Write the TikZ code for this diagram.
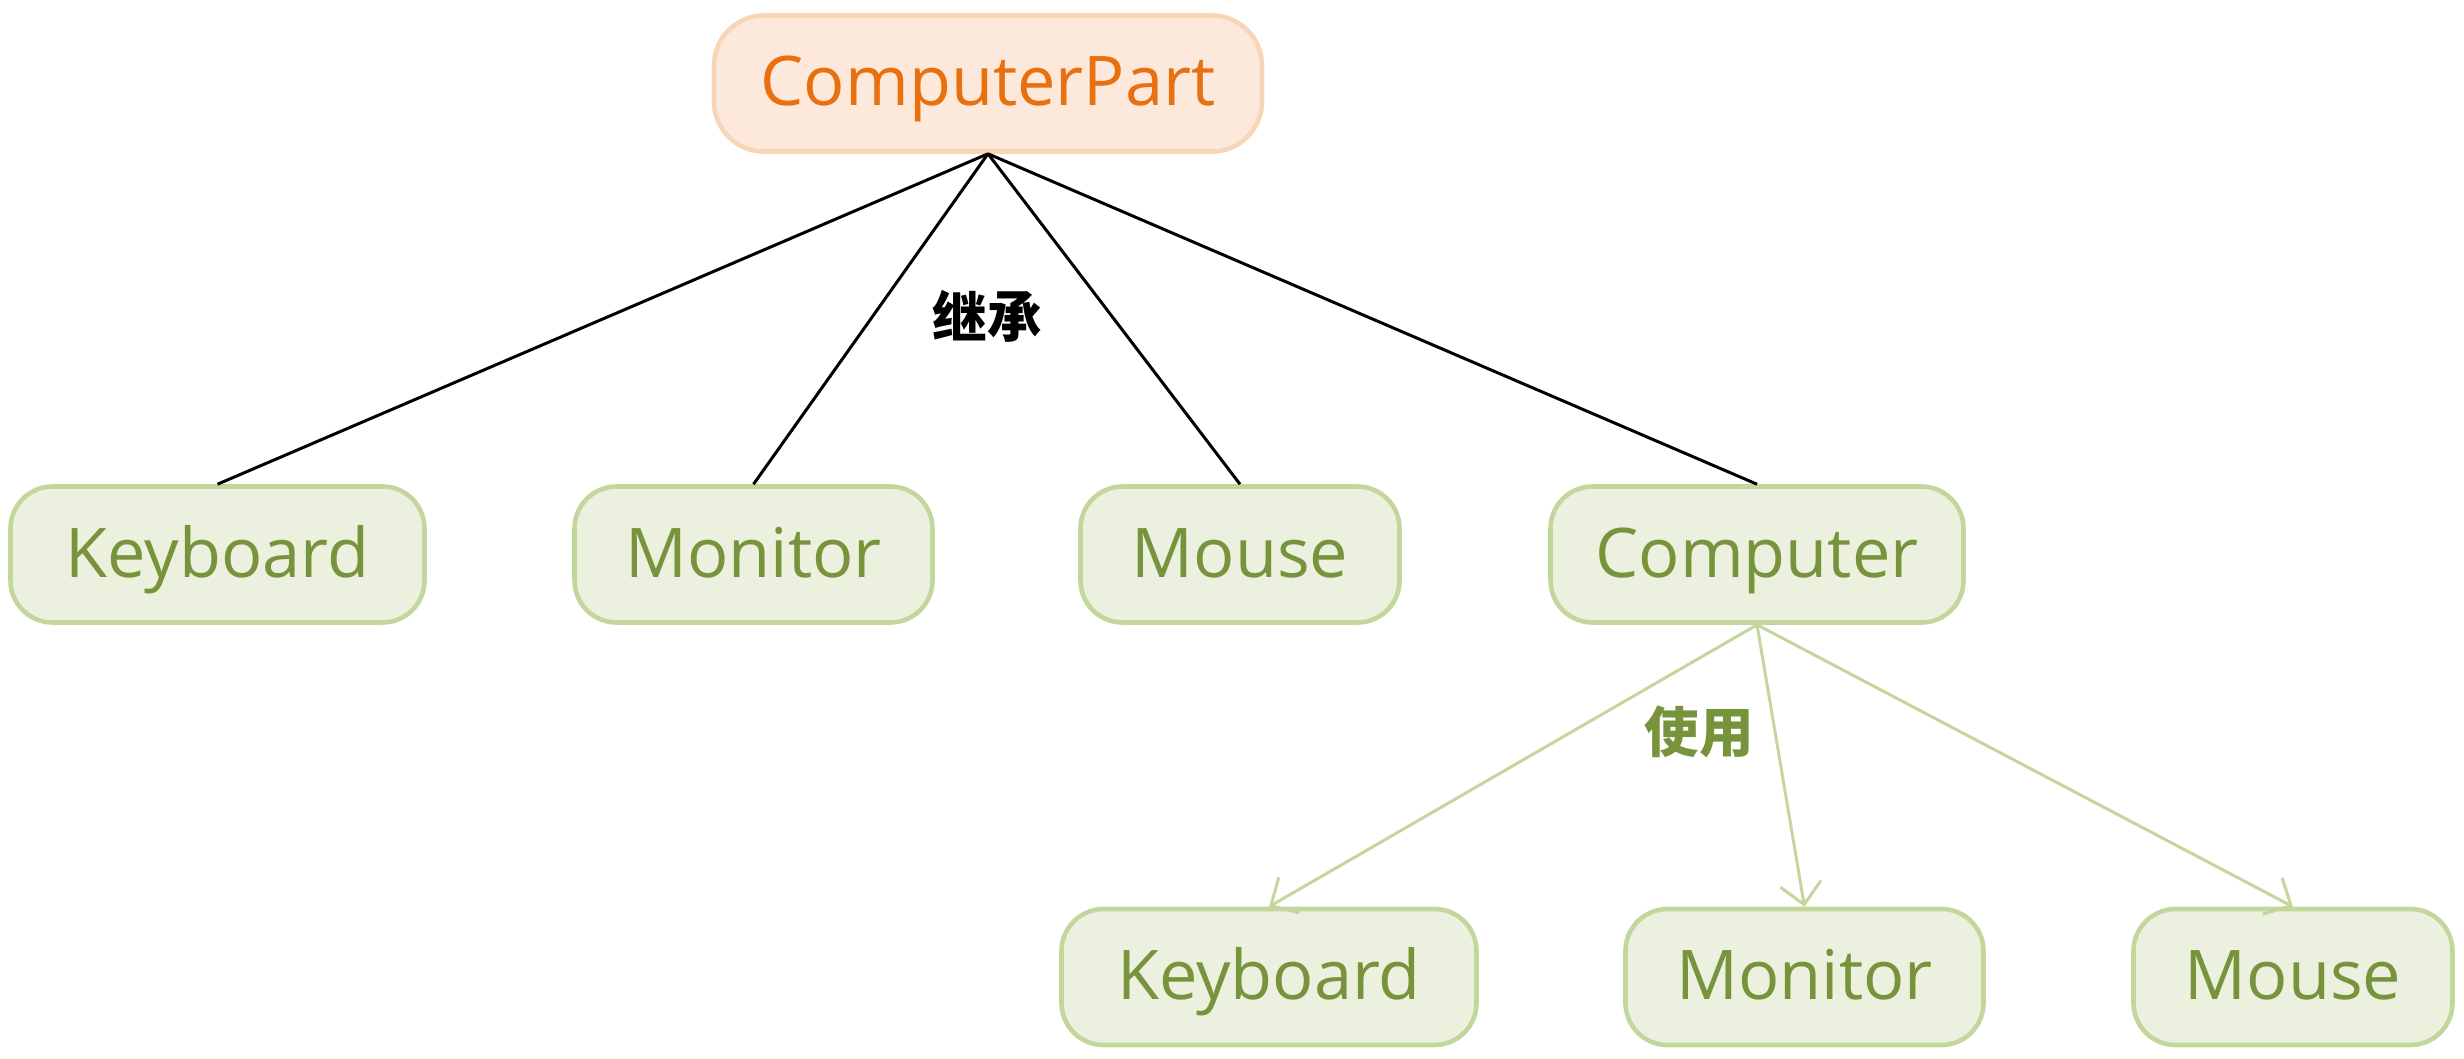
\documentclass[tikz,border=0pt]{standalone}
\usepackage{fontspec}
\setmainfont{Open Sans}
\newfontfamily\cjk{Noto Sans CJK SC}
\usetikzlibrary{arrows.meta}

\definecolor{partfill}{HTML}{FCE9DC}
\definecolor{partline}{HTML}{F9D5B8}
\definecolor{parttext}{HTML}{E8700F}
\definecolor{itemfill}{HTML}{EBF1DE}
\definecolor{itemline}{HTML}{C3D69B}
\definecolor{itemtext}{HTML}{77933C}

\tikzset{
  box/.style={line width=1.3pt, inner sep=0pt, minimum height=1.36cm,
              text height=12.8pt, text depth=0pt,
              font=\fontsize{19.5}{23}\selectfont},
  partbox/.style={box, draw=partline, fill=partfill, text=parttext,
                  rounded corners=0.5cm},
  itembox/.style={box, draw=itemline, fill=itemfill, text=itemtext,
                  rounded corners=0.42cm},
  inherit/.style={black, line width=0.85pt},
  uses/.style={itemline, line width=0.85pt,
               -{Straight Barb[length=0.21cm, width=0.41cm]}},
  relation/.style={font=\cjk\bfseries\fontsize{15.5}{18}\selectfont},
}

\begin{document}
\begin{tikzpicture}
  \useasboundingbox (0,0) rectangle (24.64,-10.59);

  % base class
  \node[partbox, minimum width=5.48cm] (part) at (9.88,-0.835) {ComputerPart};

  % subclasses
  \node[itembox, minimum width=4.14cm] (keyboard) at (2.175,-5.545) {Keyboard};
  \node[itembox, minimum width=3.58cm] (monitor)  at (7.535,-5.545) {Monitor};
  \node[itembox, minimum width=3.19cm] (mouse)    at (12.40,-5.545) {Mouse};
  \node[itembox, minimum width=4.13cm] (computer) at (17.57,-5.545) {Computer};

  % parts used by the computer
  \node[itembox, minimum width=4.15cm] (keyboardb) at (12.69,-9.77) {Keyboard};
  \node[itembox, minimum width=3.58cm] (monitorb)  at (18.045,-9.77) {Monitor};
  \node[itembox, minimum width=3.19cm] (mouseb)    at (22.93,-9.77) {Mouse};

  \draw[inherit] (part.south) -- (keyboard.north);
  \draw[inherit] (part.south) -- (monitor.north);
  \draw[inherit] (part.south) -- (mouse.north);
  \draw[inherit] (part.south) -- (computer.north);

  \draw[uses] (computer.south) -- (keyboardb.north);
  \draw[uses] (computer.south) -- (monitorb.north);
  \draw[uses] (computer.south) -- (mouseb.north);

  \node[relation, text=black]    (inheritlabel) at (9.87,-3.16) {继承};
  \node[relation, text=itemtext] (useslabel)    at (16.99,-7.32) {使用};
\end{tikzpicture}
\end{document}
